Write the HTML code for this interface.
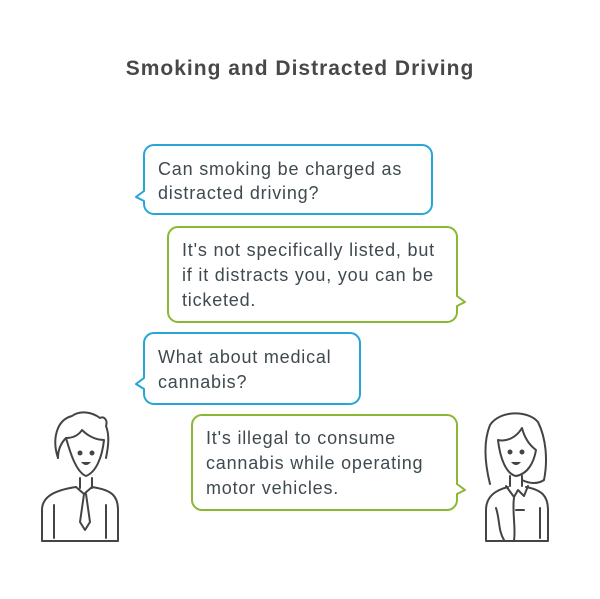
<!DOCTYPE html>
<html><head><style>body{margin:0;background:#fff}</style></head><body>
<svg width="600" height="594" xmlns="http://www.w3.org/2000/svg" font-family="Liberation Sans, sans-serif">
<rect width="600" height="594" fill="#fff"/>
<text x="300" y="75" text-anchor="middle" font-size="21" font-weight="bold" fill="#484848" letter-spacing="1">Smoking and Distracted Driving</text>
<g fill="#fff" stroke-width="2" stroke-linejoin="round">
<path d="M154,145 H422 A10,10 0 0 1 432,155 V204 A10,10 0 0 1 422,214 H154 A10,10 0 0 1 144,204 V201 L136,197 L144,191 V155 A10,10 0 0 1 154,145 Z" stroke="#25a6d6"/>
<path d="M178,227 H447 A10,10 0 0 1 457,237 V296 L465,302 L457,306 V312 A10,10 0 0 1 447,322 H178 A10,10 0 0 1 168,312 V237 A10,10 0 0 1 178,227 Z" stroke="#8ab833"/>
<path d="M154,333 H350 A10,10 0 0 1 360,343 V394 A10,10 0 0 1 350,404 H154 A10,10 0 0 1 144,394 V389 L136,384 L144,378 V343 A10,10 0 0 1 154,333 Z" stroke="#25a6d6"/>
<path d="M202,415 H447 A10,10 0 0 1 457,425 V484 L465,490 L457,494 V500 A10,10 0 0 1 447,510 H202 A10,10 0 0 1 192,500 V425 A10,10 0 0 1 202,415 Z" stroke="#8ab833"/>
</g>
<g font-size="18" fill="#3f4a4f" letter-spacing="0.8">
<text x="158" y="175">Can smoking be charged as</text>
<text x="158" y="199">distracted driving?</text>
<text x="182" y="256">It's not specifically listed, but</text>
<text x="182" y="281">if it distracts you, you can be</text>
<text x="182" y="306">ticketed.</text>
<text x="158" y="363">What about medical</text>
<text x="158" y="388">cannabis?</text>
<text x="206" y="444">It's illegal to consume</text>
<text x="206" y="469">cannabis while operating</text>
<text x="206" y="494">motor vehicles.</text>
</g>
<g fill="none" stroke="#444" stroke-width="2" stroke-linejoin="round" stroke-linecap="round">
<path d="M58,458 C52,440 56,420 72,416 C80,410 92,412 100,418 C104,416 108,420 106,426 C110,436 108,448 106,458"/>
<path d="M66,438 C70,452 76,472 86,476 C96,472 102,458 104,440 C96,440 88,436 82,430 C78,436 72,438 66,438"/>
<path d="M58,458 C58,448 62,442 66,438"/>
<path d="M80,478 L80,488 M92,478 L92,488"/>
<path d="M76,487 L84,494 L92,487"/>
<path d="M84,494 L80,522 L85,530 L90,522 L86,494"/>
<path d="M42,540 V510 C42,496 56,490 76,487 M92,487 C112,490 118,496 118,510 V540"/>
<path d="M54,505 V538 M106,505 V538"/>
<path d="M42,541 H118"/>
<path d="M490,484 C484,460 484,440 490,425 C500,410 528,410 538,422 C546,438 548,460 544,480 C538,484 530,484 522,480"/>
<path d="M498,440 C500,458 506,474 516,476 C528,474 534,462 536,450 C528,444 524,436 522,428 C516,438 506,442 498,440"/>
<path d="M510,476 L510,486 M522,476 L522,486"/>
<path d="M506,486 L514,497 L518,490 L524,496 L528,486"/>
<path d="M486,540 V510 C486,496 496,490 508,487 M526,487 C542,490 548,496 548,510 V540"/>
<path d="M496,508 C500,520 498,530 504,540 M540,508 V538 M514,498 C512,510 516,530 514,540 M516,510 H524"/>
<path d="M486,541 H548"/>
</g>
<g fill="#444"><circle cx="80" cy="453" r="2.5"/><circle cx="92" cy="453" r="2.5"/><circle cx="510" cy="452" r="2.5"/><circle cx="522" cy="452" r="2.5"/></g>
<path d="M81,462 Q86,468 91,462 Z" fill="#444"/><path d="M511,462 Q516,468 521,462 Z" fill="#444"/>
</svg>
</body></html>
